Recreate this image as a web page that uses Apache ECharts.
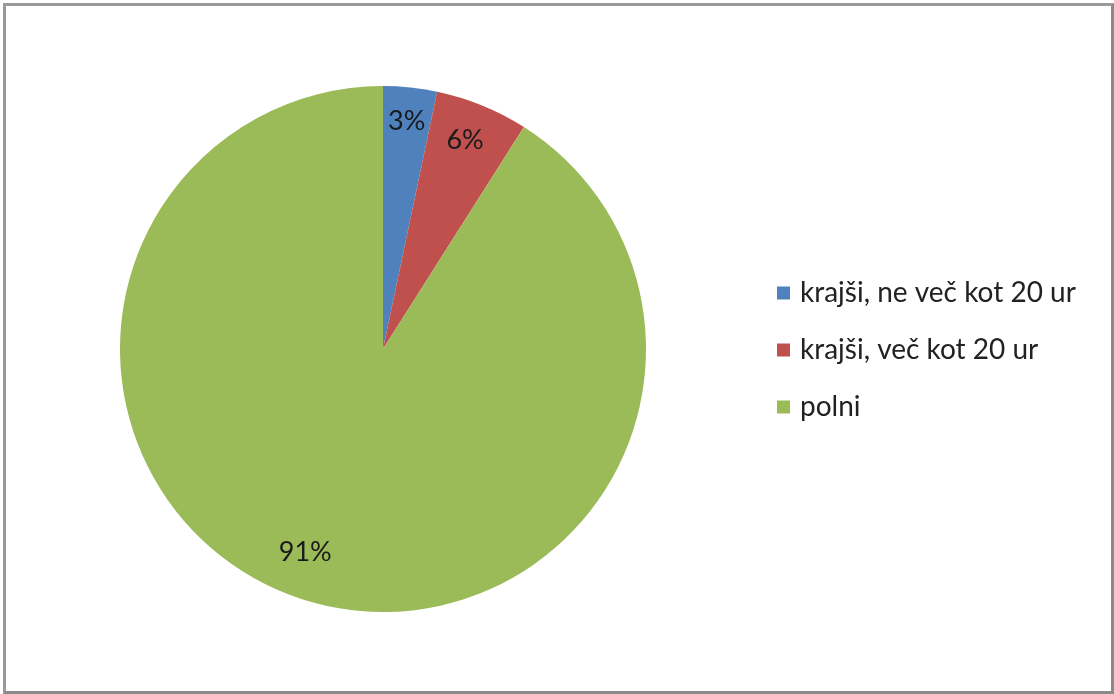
<!DOCTYPE html>
<html>
<head>
<meta charset="utf-8">
<script src="https://cdn.jsdelivr.net/npm/echarts@6/dist/echarts.min.js"></script>
<style>
html,body{margin:0;padding:0;background:#fff;}
#frame{position:absolute;left:3px;top:3px;width:1111px;height:691px;box-sizing:border-box;border:3px solid #9a9a9a;border-right-color:#8a8a8a;border-bottom-color:#8a8a8a;}
#chart{position:absolute;left:0;top:0;width:1114px;height:694px;}
</style>
</head>
<body>
<div id="frame"></div>
<div id="chart"></div>
<script>
const categories = ['krajši, ne več kot 20 ur', 'krajši, več kot 20 ur', 'polni'];
const values = [3.3, 5.7, 91.0];
const colors = ['#4F81BD', '#C0504D', '#9BBB59'];

const data = categories.map((c, i) => ({ name: c, value: values[i], itemStyle: { color: colors[i] } }));
const labelData = categories.map((c, i) => ({ name: c, value: values[i] }));

const chart = echarts.init(document.getElementById('chart'), null, { renderer: 'canvas' });
chart.setOption({
  animation: false,
  backgroundColor: 'transparent',
  legend: {
    orient: 'vertical',
    left: 772,
    top: 274,
    itemWidth: 13,
    itemHeight: 13,
    itemGap: 29,
    icon: 'rect',
    data: categories,
    textStyle: { fontFamily: 'Lato', fontSize: 28, color: '#222', lineHeight: 28, padding: [0, 0, 0, 5] }
  },
  series: [
    {
      type: 'pie',
      center: [383, 349],
      radius: 263,
      startAngle: 90,
      clockwise: true,
      label: { show: false },
      labelLine: { show: false },
      silent: true,
      data: data
    },
    {
      type: 'pie',
      center: [383, 349],
      radius: [188, 263],
      startAngle: 90,
      clockwise: true,
      silent: true,
      itemStyle: { color: 'rgba(0,0,0,0)' },
      label: {
        show: true,
        position: 'inside',
        fontFamily: 'Lato',
        fontSize: 27,
        color: '#1a1a1a',
        formatter: p => Math.round(p.percent) + '%'
      },
      labelLayout: p => (p.dataIndex === 2 ? { dx: -14, dy: -16 } : (p.dataIndex === 1 ? { dx: -4, dy: 3 } : {})),
      labelLine: { show: false },
      data: labelData
    }
  ]
});
</script>
</body>
</html>
